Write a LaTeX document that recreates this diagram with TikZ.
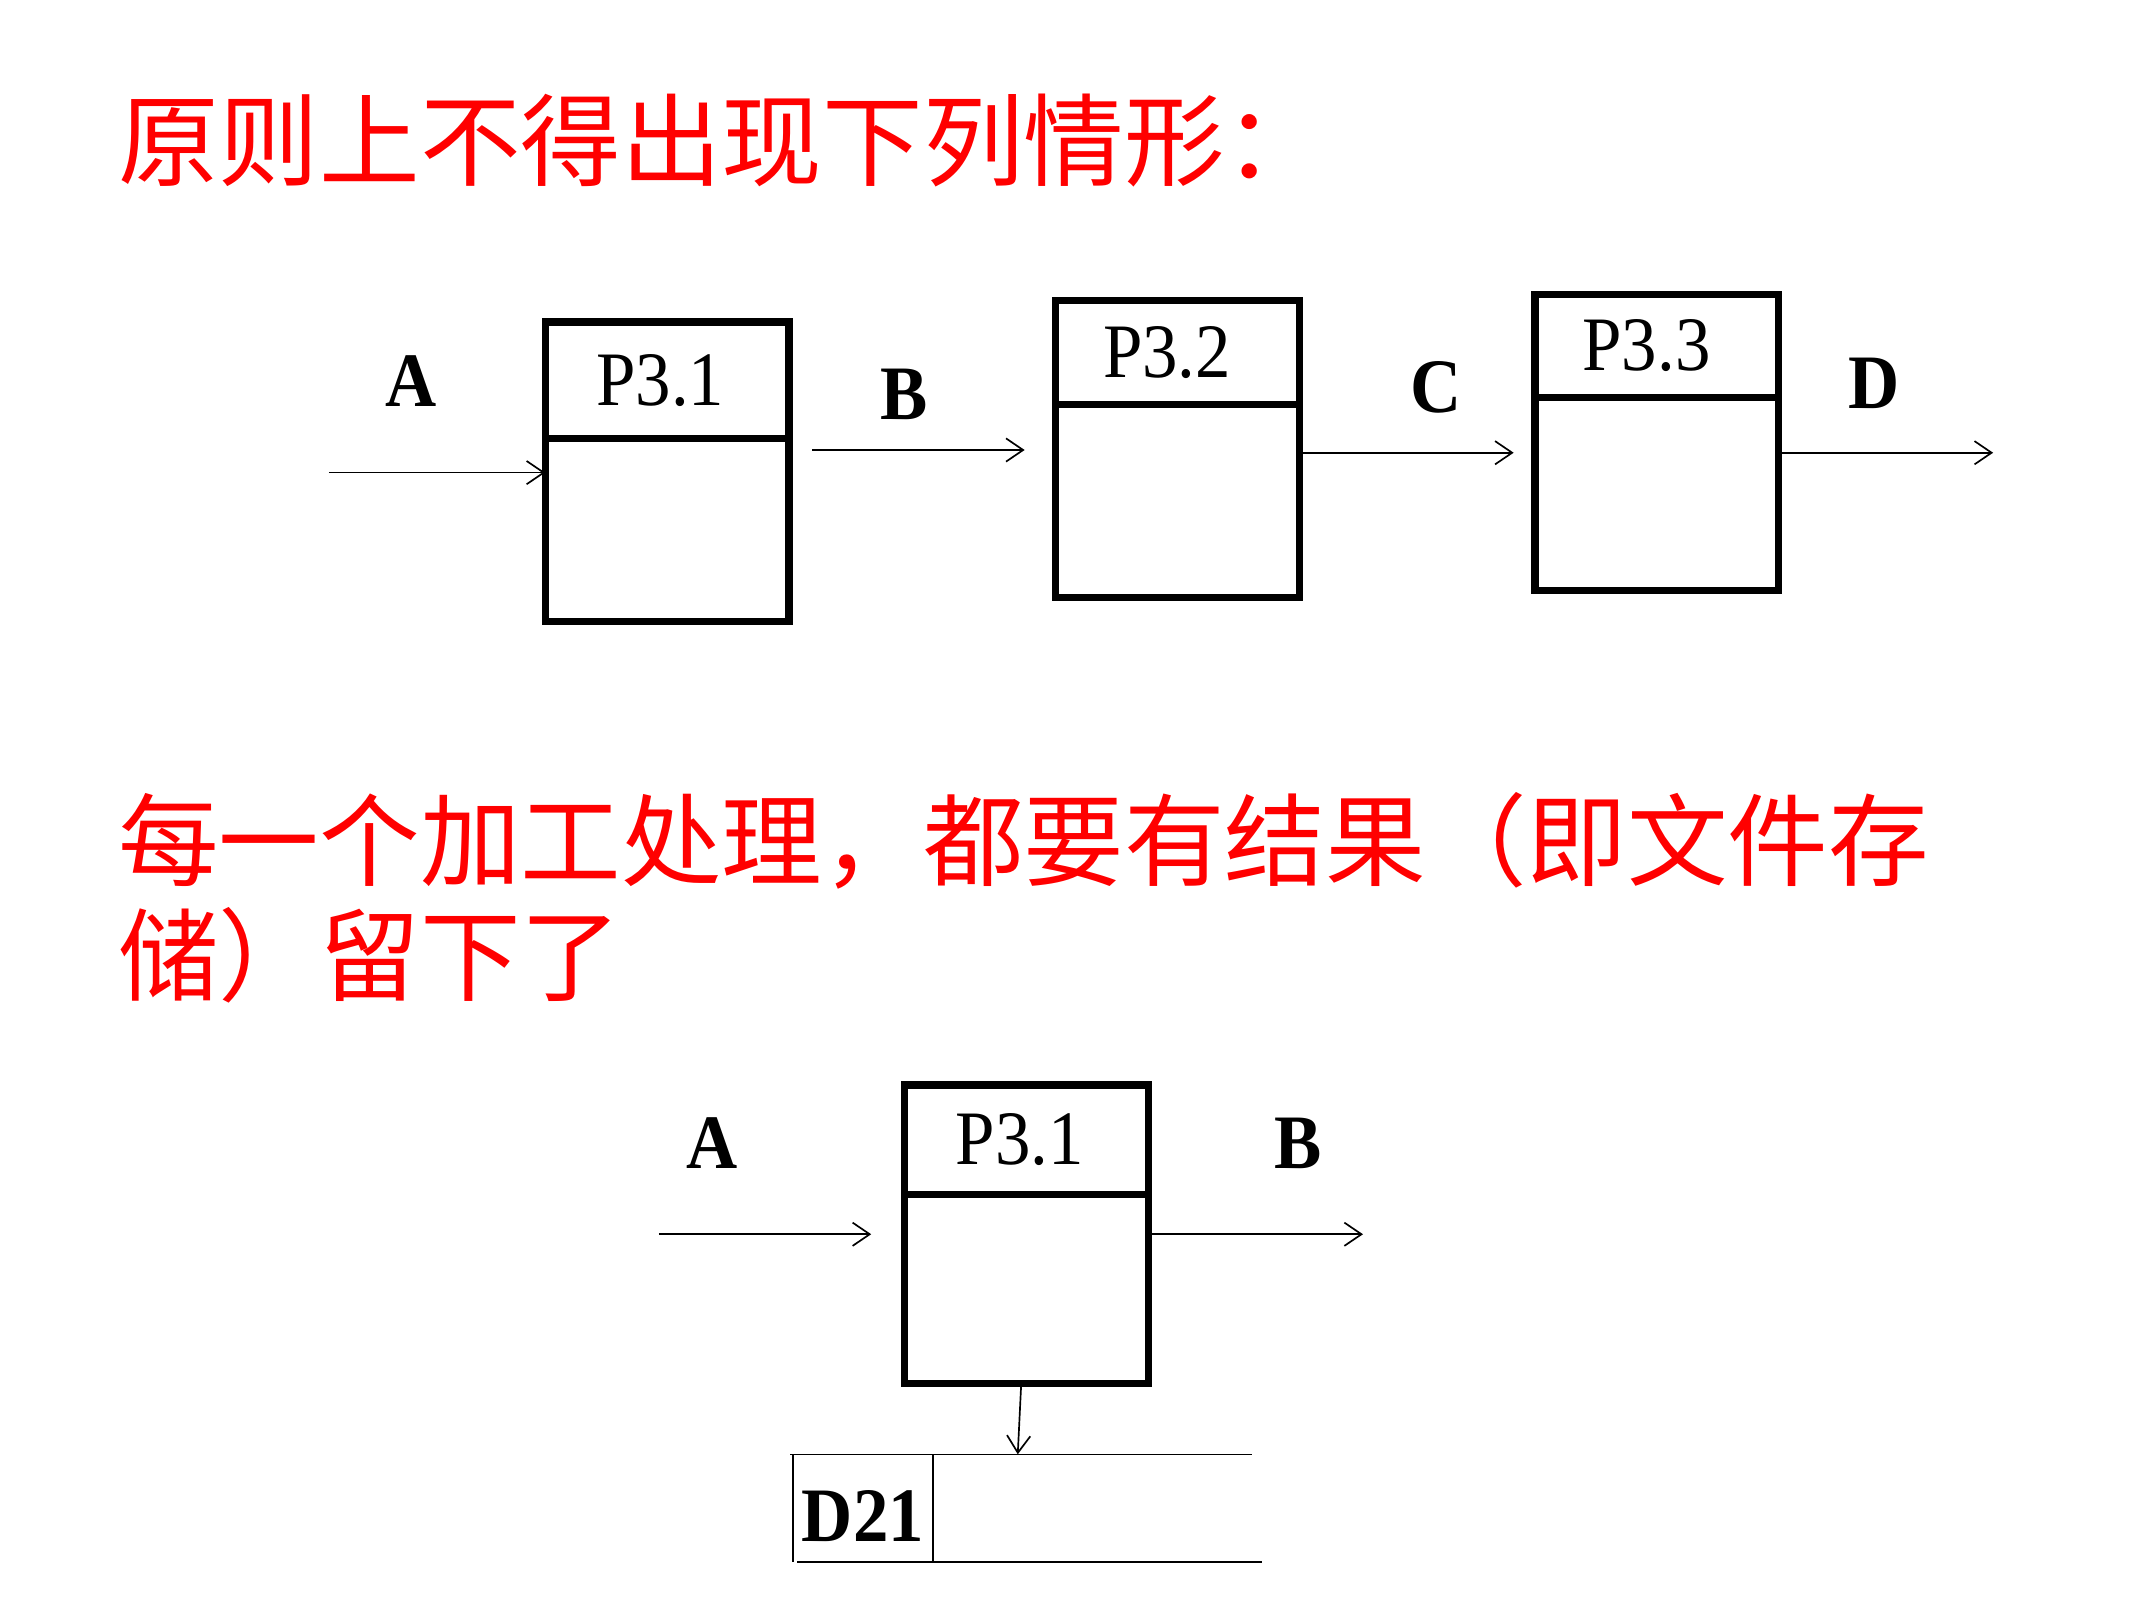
\documentclass[tikz,border=0pt]{standalone}
\usepackage{fontspec}
\setmainfont{Liberation Serif}[FakeStretch=0.92]
\newfontfamily\cjk{Noto Sans CJK SC}
\usetikzlibrary{arrows.meta}

\begin{document}
\begin{tikzpicture}[x=0.02cm, y=-0.02cm]
% Define the node styles
\tikzstyle{part} = [draw, rectangle, minimum width=3.56cm, line width=0.105cm, inner sep=0pt, outer sep=0pt]
\tikzstyle{head} = [part, font=\fontsize{32}{36}\selectfont]
\tikzstyle{body} = [part, anchor=north]
\tikzstyle{flowname} = [font=\fontsize{32}{36}\selectfont\bfseries, inner sep=0pt]
\tikzstyle{storename} = [flowname, text height=0.98cm, text depth=0pt, minimum width=2.03cm, minimum height=1.56cm]
\tikzstyle{remark} = [text=red, font=\cjk\fontsize{41.8}{48}\selectfont, anchor=base west, inner sep=0pt]
\tikzstyle{flow} = [-{Straight Barb[length=0.25cm, width=0.34cm]}, line width=0.7pt]
\tikzstyle{store} = [line width=0.6pt]

\useasboundingbox (0,0) rectangle (1571,1171);

% Define the texts
\node[remark] (T1) at (86,130) {原则上不得出现下列情形：};
\node[remark] (T2) at (86,641) {每一个加工处理，都要有结果（即文件存};
\node[remark] (T3) at (86,725) {储）留下了};

% Define the processes
\node[head, minimum height=1.70cm] (P31) at (487,277.5) {\hspace*{-0.2cm}P3.1};
\node[body, minimum height=2.68cm] (P31b) at (P31.south) {};
\node[head, minimum height=1.52cm] (P32) at (859.5,257.5) {\hspace*{-0.3cm}P3.2};
\node[body, minimum height=2.82cm] (P32b) at (P32.south) {};
\node[head, minimum height=1.50cm] (P33) at (1209.5,252.5) {\hspace*{-0.3cm}P3.3};
\node[body, minimum height=2.82cm] (P33b) at (P33.south) {};

\node[head, minimum height=1.60cm] (Q31) at (749.5,832) {\hspace*{-0.2cm}P3.1};
\node[body, minimum height=2.76cm] (Q31b) at (Q31.south) {};

% Define the data store
\node[storename] (D21) at (630,1101) {D21};

% Define the flow names
\node[flowname] (A) at (300,278) {A};
\node[flowname] (B) at (660,288) {B};
\node[flowname] (C) at (1048,283) {C};
\node[flowname] (D) at (1368,280) {D};
\node[flowname] (QA) at (520,834.5) {A};
\node[flowname] (QB) at (948,834.5) {B};

% Define the transitions
\coordinate (a1) at (240,345);
\coordinate (b1) at (593,328.5);
\coordinate (b2) at (748,328.5);
\coordinate (c2) at (1105,330.5);
\coordinate (d2) at (1455,330.5);
\coordinate (qa1) at (481,901);
\coordinate (qa2) at (636,901);
\coordinate (qb2) at (995,901);

\draw[flow] (a1) -- (a1 -| P31b.west);
\draw[flow] (b1) -- (b2);
\draw[flow] (P32b.east |- c2) -- (c2);
\draw[flow] (P33b.east |- d2) -- (d2);

\draw[flow] (qa1) -- (qa2);
\draw[flow] (Q31b.east |- qb2) -- (qb2);
\draw[flow] ([xshift=-0.08cm]Q31b.south) -- ([xshift=2.26cm]D21.north);

% Draw the store lines
\draw[store] (D21.north west) ++(-2,0) -- ++(337,0);
\draw[store] (D21.south west) ++(3,0) -- ++(339,0);
\draw[store] (D21.north west) -- (D21.south west);
\draw[store] (D21.north east) -- (D21.south east);

\end{tikzpicture}
\end{document}
